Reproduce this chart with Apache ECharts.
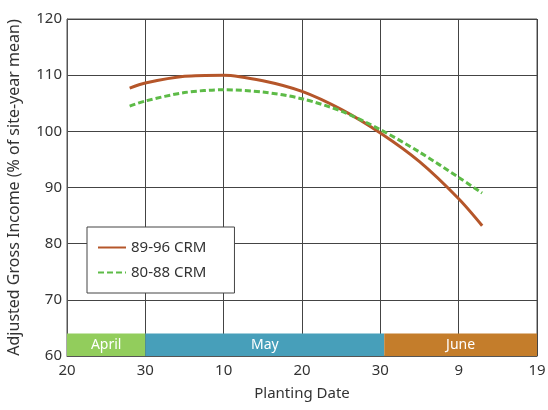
<!DOCTYPE html>
<html>
<head>
<meta charset="utf-8">
<title>Planting Date vs Adjusted Gross Income</title>
<script src="https://cdn.jsdelivr.net/npm/echarts@6/dist/echarts.min.js"></script>
<style>
  html, body { margin: 0; padding: 0; background: #fff; }
  #chart { width: 548px; height: 410px; }
</style>
</head>
<body>
<div id="chart"></div>
<script>
// x is days after April 20; ticks every 10 days
var tickLabels = ["20", "30", "10", "20", "30", "9", "19"];

// month bands along the bottom of the plot
var monthNames = ["April", "May", "June"];
var monthStart = [0, 10, 40.5];
var monthEnd = [10, 40.5, 60];
var bandLow = 60;
var bandHigh = 64;

// 89-96 CRM (solid brown)
var crm8996Days = [8, 10, 15, 20, 25, 30, 35, 40, 45, 50, 53];
var crm8996Vals = [107.7, 108.6, 109.8, 110.0, 109.0, 107.1, 103.9, 99.7, 94.6, 88.0, 83.2];

// 80-88 CRM (dashed green)
var crm8088Days = [8, 10, 15, 20, 25, 30, 35, 40, 45, 50, 53];
var crm8088Vals = [104.5, 105.4, 106.9, 107.4, 107.0, 105.8, 103.6, 100.3, 96.3, 91.8, 89.0];

var bandColors = { April: "#92cd5c", May: "#479fba", June: "#c47d2b" };
var font = "'Noto Sans', 'Open Sans', sans-serif";

function pairs(xs, ys) {
  return xs.map(function (x, i) { return [x, ys[i]]; });
}

var bands = monthNames.map(function (m, i) {
  return [
    { name: m, coord: [monthStart[i], bandLow], itemStyle: { color: bandColors[m], opacity: 1 } },
    { coord: [monthEnd[i], bandHigh] }
  ];
});

var chart = echarts.init(document.getElementById("chart"));
chart.setOption({
  animation: false,
  textStyle: { fontFamily: font },
  grid: {
    left: 67, right: 11, top: 19, bottom: 54,
    outerBoundsMode: "none",
    show: true, borderColor: "#555", borderWidth: 1
  },
  legend: {
    left: 87, top: 227,
    orient: "vertical",
    padding: [13, 28, 13, 10],
    itemGap: 10,
    itemWidth: 28,
    itemHeight: 12,
    borderColor: "#444",
    borderWidth: 1,
    backgroundColor: "#fff",
    itemStyle: { opacity: 0 },
    textStyle: { fontSize: 15, color: "#333", fontFamily: font },
    data: ["89-96 CRM", "80-88 CRM"]
  },
  xAxis: {
    type: "value",
    min: 0, max: 60, interval: 10,
    name: "Planting Date",
    nameLocation: "middle",
    nameGap: 30,
    nameTextStyle: { fontSize: 15, color: "#333" },
    axisLine: { show: true, lineStyle: { color: "#555" } },
    axisTick: { show: false },
    axisLabel: {
      fontSize: 15, color: "#333", margin: 7,
      formatter: function (v) { return tickLabels[Math.round(v / 10)]; }
    },
    splitLine: { show: true, lineStyle: { color: "#444", width: 1 } }
  },
  yAxis: {
    type: "value",
    min: 60, max: 120, interval: 10,
    name: "Adjusted Gross Income (% of site-year mean)",
    nameLocation: "middle",
    nameGap: 45,
    nameTextStyle: { fontSize: 16, color: "#333" },
    axisLine: { show: true, lineStyle: { color: "#555" } },
    axisTick: { show: false },
    axisLabel: { fontSize: 15, color: "#333", margin: 5 },
    splitLine: { show: true, lineStyle: { color: "#444", width: 1 } }
  },
  series: [
    {
      name: "89-96 CRM",
      type: "line",
      data: pairs(crm8996Days, crm8996Vals),
      smooth: 0.3,
      symbol: "none",
      lineStyle: { color: "#b5562a", width: 3 },
      itemStyle: { color: "#b5562a" },
      z: 3,
      markArea: {
        silent: true,
        label: { show: true, position: "inside", color: "#fff", fontSize: 14, fontFamily: font },
        data: bands
      }
    },
    {
      name: "80-88 CRM",
      type: "line",
      data: pairs(crm8088Days, crm8088Vals),
      smooth: 0.3,
      symbol: "none",
      lineStyle: { color: "#5dbb47", width: 3, type: [6, 3] },
      itemStyle: { color: "#5dbb47" },
      z: 3
    }
  ]
});
</script>
</body>
</html>
